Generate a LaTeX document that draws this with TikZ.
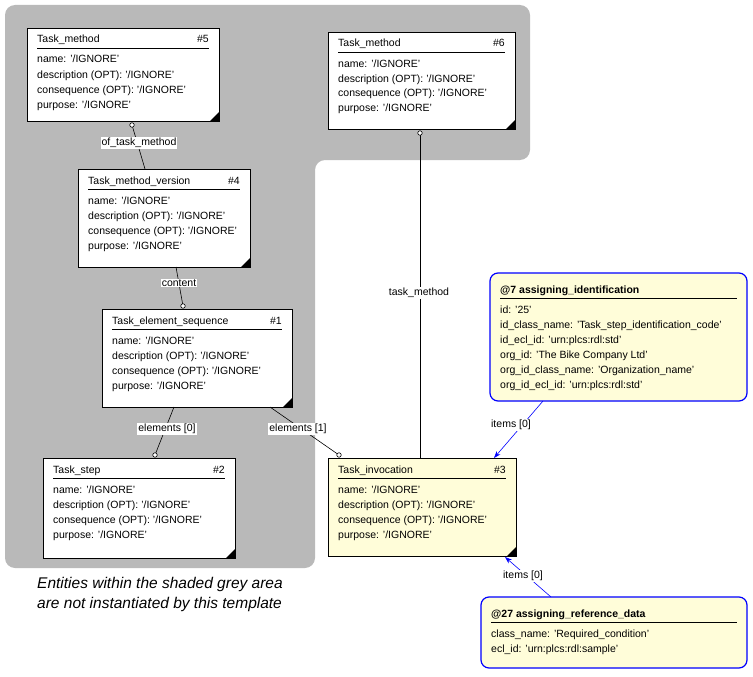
\documentclass[tikz,border=0pt]{standalone}
\usepackage{fontspec}
\setmainfont{Liberation Sans}
\usetikzlibrary{arrows.meta}
\begin{document}
\begin{tikzpicture}[x=1pt,y=-1pt,
  ent/.style={draw,line width=0.8pt,fill=white,inner sep=0},
  ylw/.style={fill=yellow!15},
  tx/.style={anchor=base west,inner sep=0,font=\fontsize{10.5}{12}\selectfont},
  lbl/.style={fill=white,inner sep=1pt,font=\fontsize{10.5}{12}\selectfont},
  con/.style={line width=0.6pt},
  circ/.style={circle,draw,fill=white,inner sep=0,minimum size=4.5pt,line width=0.6pt},
  blu/.style={draw=blue,line width=1.2pt,rounded corners=8pt,fill=yellow!15}]
\useasboundingbox (0,0) rectangle (753,677);
\fill[gray!55,rounded corners=10pt] (5,5) -- (530,5) -- (530,160) -- (315,160) -- (315,568) -- (5,568) -- cycle;
\newcommand\ent[8]{%
 \draw[ent,#8] (#2,#3) rectangle (#4,#5);
 \coordinate (#1) at ({(#2+#4)/2},{(#3+#5)/2});
 \fill (#4,#5) -- (#4-9,#5) -- (#4,#5-9) -- cycle;
 \node[tx] at (#2+10,#3+15) {#6};
 \node[tx,anchor=base east] at (#4-10,#3+15) {#7};
 \draw[line width=0.6pt] (#2+10,#3+20) -- (#4-10,#3+20);
 \node[tx] at (#2+10,#3+35) {name: '/IGNORE'};
 \node[tx] at (#2+10,#3+50) {description (OPT): '/IGNORE'};
 \node[tx] at (#2+10,#3+65) {consequence (OPT): '/IGNORE'};
 \node[tx] at (#2+10,#3+80) {purpose: '/IGNORE'};}
\ent{n5}{27}{28}{219}{121}{Task\_method}{\#5}{}
\ent{n6}{328}{32}{515}{129}{Task\_method}{\#6}{}
\ent{n4}{78}{169}{250}{267}{Task\_method\_version}{\#4}{}
\ent{n1}{102}{309}{292}{407}{Task\_element\_sequence}{\#1}{}
\ent{n2}{43}{458}{235}{558}{Task\_step}{\#2}{}
\ent{n3}{328}{458}{516}{556}{Task\_invocation}{\#3}{ylw}
% connectors
\coordinate (c5) at (132,125); \coordinate (c4t) at (145,169);
\draw[con] (c4t) -- (c5); \node[circ] at (c5) {};
\node[lbl] at (139,143) {of\_task\_method};
\coordinate (c4b) at (176,267); \coordinate (c1) at (183,306);
\draw[con] (c4b) -- (c1); \node[circ] at (c1) {};
\node[lbl] at (179,283) {content};
\coordinate (c1b) at (174,407); \coordinate (c2) at (155,455);
\draw[con] (c1b) -- (c2); \node[circ] at (c2) {};
\node[lbl] at (167,429) {elements [0]};
\coordinate (c1r) at (270,407); \coordinate (c3l) at (339,455);
\draw[con] (c1r) -- (c3l); \node[circ] at (c3l) {};
\node[lbl] at (298,429) {elements [1]};
\coordinate (c6) at (420,133); \coordinate (c3t) at (420,458);
\draw[con] (c6) -- (c3t); \node[circ] at (c6) {};
\node[lbl] at (419,293) {task\_method};
% blue boxes
\draw[blu] (490,273) rectangle (747,401); \coordinate (b7) at (543,401);
\node[tx,font=\fontsize{10.5}{12}\bfseries] at (500,293) {@7 assigning\_identification};
\draw[line width=0.6pt] (500,298) -- (737,298);
\foreach \t [count=\i] in {id: '25',id\_class\_name: 'Task\_step\_identification\_code',id\_ecl\_id: 'urn:plcs:rdl:std',org\_id: 'The Bike Company Ltd',org\_id\_class\_name: 'Organization\_name',org\_id\_ecl\_id: 'urn:plcs:rdl:std'}
  \node[tx] at (500,298+15*\i) {\t};
\draw[blu] (481,597) rectangle (747,668); \coordinate (b27) at (551,597);
\node[tx,font=\fontsize{10.5}{12}\bfseries] at (491,617) {@27 assigning\_reference\_data};
\draw[line width=0.6pt] (491,622) -- (737,622);
\node[tx] at (491,637) {class\_name: 'Required\_condition'};
\node[tx] at (491,652) {ecl\_id: 'urn:plcs:rdl:sample'};
\coordinate (a7) at (494,458); \coordinate (a27) at (505,557);
\draw[con,draw=blue,-{Stealth[length=7pt,width=5pt]}] (b7) -- (a7);
\node[lbl] at (511,425) {items [0]};
\draw[con,draw=blue,-{Stealth[length=7pt,width=5pt]}] (b27) -- (a27);
\node[lbl] at (523,576) {items [0]};
\node[anchor=base west,inner sep=0,font=\fontsize{15.5}{18}\itshape] at (37,588) {Entities within the shaded grey area};
\node[anchor=base west,inner sep=0,font=\fontsize{15.5}{18}\itshape] at (37,608) {are not instantiated by this template};
\end{tikzpicture}
\end{document}
